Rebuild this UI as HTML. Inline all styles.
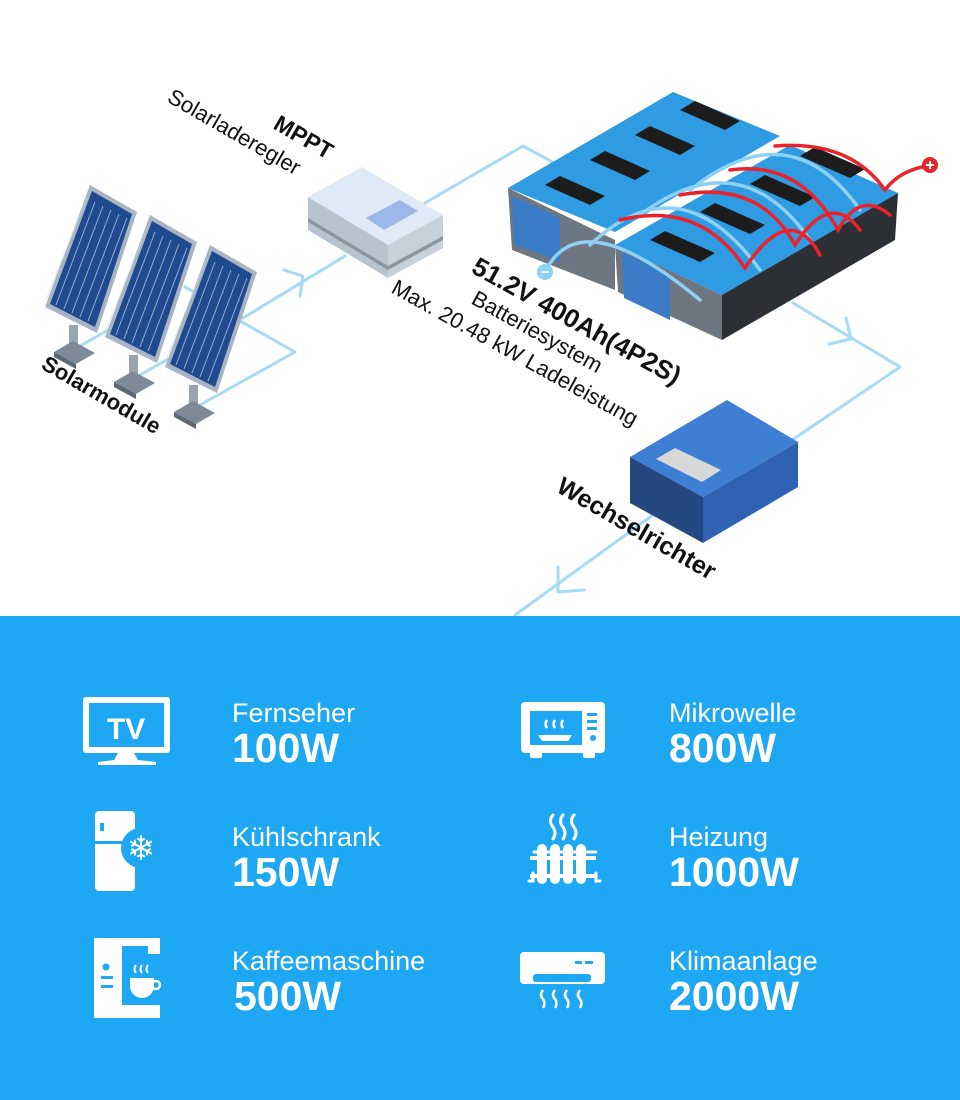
<!DOCTYPE html>
<html><head><meta charset="utf-8"><style>
html,body{margin:0;padding:0;background:#fff}
svg{display:block}
text{font-family:"Liberation Sans",sans-serif}
</style></head><body>
<svg width="960" height="1100" viewBox="0 0 960 1100" xmlns="http://www.w3.org/2000/svg">
<rect width="960" height="1100" fill="#fff"/>
<g stroke="#a6dbf6" stroke-width="3" fill="none" stroke-linecap="round" stroke-linejoin="round">
<polyline points="80,346 110,329"/>
<polyline points="140,375 170,358"/>
<polyline points="200,405 295,352 240,321"/>
<polyline points="185,287 243,318"/>
<polyline points="243,318 345,256"/>
<polyline points="284,270 303,276 300,296"/>
<polyline points="425,203 523,146 560,166"/>
<polyline points="793,303 900,367 792,440"/>
<polyline points="829,344 851,339 846,318"/>
<polyline points="660,510 515,615"/>
<polyline points="558,567 558,592 584,590"/>
</g>
<g>
<g>
<rect x="69" y="325" width="9" height="32" fill="#9aa3b0"/>
<polygon points="54,352 73,341 95,353 76,364" fill="#7f8a98"/>
<polygon points="54,352 76,364 76,369 54,357" fill="#5d6876"/>
<polygon points="90,185 137,212 97,333 45,307" fill="#a9b4c2"/>
<polygon points="92,191 132,214 95,327 50,304" fill="#1f4a8f"/>
</g>
<g transform="translate(60,30)">
<rect x="69" y="325" width="9" height="32" fill="#9aa3b0"/>
<polygon points="54,352 73,341 95,353 76,364" fill="#7f8a98"/>
<polygon points="54,352 76,364 76,369 54,357" fill="#5d6876"/>
<polygon points="90,185 137,212 97,333 45,307" fill="#a9b4c2"/>
<polygon points="92,191 132,214 95,327 50,304" fill="#1f4a8f"/>
</g>
<g transform="translate(120,60)">
<rect x="69" y="325" width="9" height="32" fill="#9aa3b0"/>
<polygon points="54,352 73,341 95,353 76,364" fill="#7f8a98"/>
<polygon points="54,352 76,364 76,369 54,357" fill="#5d6876"/>
<polygon points="90,185 137,212 97,333 45,307" fill="#a9b4c2"/>
<polygon points="92,191 132,214 95,327 50,304" fill="#1f4a8f"/>
</g>
<g stroke="#c9d6ea" stroke-width="1" opacity="0.7">
<path d="M87,198 L46,300 M95,202 L56,305 M103,206 L64,309 M111,210 L72,313 M119,214 L80,317 M127,218 L88,321"/>
<path d="M147,228 L106,330 M155,232 L116,335 M163,236 L124,339 M171,240 L132,343 M179,244 L140,347 M187,248 L148,351"/>
<path d="M207,258 L166,360 M215,262 L176,365 M223,266 L184,369 M231,270 L192,373 M239,274 L200,377 M247,278 L208,381"/>
</g>
</g>
<polygon points="308,197 362,167 443,215 388,245" fill="#dfe9f7"/>
<polygon points="308,197 388,245 388,278 308,230" fill="#b9c3d0"/>
<polygon points="388,245 443,215 443,248 388,278" fill="#c8d0da"/>
<polygon points="308,218 388,266 443,236 443,240 388,270 308,222" fill="#8c96a3"/>
<polygon points="366,218 400,200 418,211 384,230" fill="#9bb8e8"/>
<polygon points="508,188 673,92 780,136 615,232" fill="#2f9be3"/>
<polygon points="508,188 615,240 615,290 512,250" fill="#6e7681"/>
<polygon points="512,196 560,218 560,262 514,244" fill="#3a7cc8"/>
<polygon points="615,245 790,145 898,193 722,295" fill="#2f9be3"/>
<polygon points="615,245 722,295 722,340 618,292" fill="#6e7681"/>
<polygon points="622,252 670,275 670,320 624,298" fill="#3a7cc8"/>
<polygon points="722,295 898,193 895,240 722,340" fill="#2c3035"/>
<g fill="#1c1c1c">
<polygon points="545,185 590,205 605,196 560,176"/>
<polygon points="590,160 635,180 650,171 605,151"/>
<polygon points="635,135 680,155 695,146 650,126"/>
<polygon points="680,110 725,130 740,121 695,101"/>
<polygon points="650,240 700,262 715,253 665,231"/>
<polygon points="700,212 750,234 765,225 715,203"/>
<polygon points="750,184 800,206 815,197 765,175"/>
<polygon points="800,156 850,178 865,169 815,147"/>
</g>
<g fill="none" stroke-width="3.5" stroke-linecap="round">
<path d="M545,272 Q580,200 700,300" stroke="#8fd0f5"/>
<path d="M590,245 Q680,160 760,270" stroke="#8fd0f5"/>
<path d="M640,215 Q740,140 810,240" stroke="#8fd0f5"/>
<path d="M690,190 Q790,110 860,210" stroke="#8fd0f5"/>
<path d="M620,220 Q700,200 745,268 Q790,200 820,255" stroke="#e8242a"/>
<path d="M680,195 Q760,180 795,245 Q830,190 860,230" stroke="#e8242a"/>
<path d="M730,170 Q800,160 838,230 Q860,190 890,215" stroke="#e8242a"/>
<path d="M775,146 Q850,140 885,190 Q900,170 928,166" stroke="#e8242a"/>
</g>
<circle cx="545" cy="272" r="8" fill="#8fd0f5"/><rect x="541" y="271" width="8" height="2" fill="#fff"/>
<circle cx="930" cy="165" r="8" fill="#e8242a"/><rect x="926" y="164" width="8" height="2" fill="#fff"/><rect x="929" y="161" width="2" height="8" fill="#fff"/>
<polygon points="630,457 727,400 798,442 703,497" fill="#3e7fd4"/>
<polygon points="630,457 703,497 703,543 630,503" fill="#24477f"/>
<polygon points="703,497 798,442 798,487 703,543" fill="#2f62b3"/>
<polygon points="656,459 675,448 721,470 702,482" fill="#d8d8d8"/>
<g fill="#111">
<text transform="translate(166,101) rotate(30)" font-size="22">Solarladeregler</text>
<text transform="translate(272,128) rotate(30)" font-size="23" font-weight="bold">MPPT</text>
<text transform="translate(40,368) rotate(30)" font-size="22" font-weight="bold">Solarmodule</text>
<text transform="translate(470,272) rotate(29)" font-size="26" font-weight="bold">51.2V 400Ah(4P2S)</text>
<text transform="translate(470,303) rotate(29)" font-size="22">Batteriesystem</text>
<text transform="translate(390,292) rotate(29)" font-size="22">Max. 20.48 kW Ladeleistung</text>
<text transform="translate(555,491) rotate(30)" font-size="25" font-weight="bold">Wechselrichter</text>
</g>
<rect x="0" y="616" width="960" height="484" fill="#1ea7f3"/>
<g fill="#fff">
<text x="232" y="722" font-size="27">Fernseher</text>
<text x="232" y="762" font-size="41" font-weight="bold">100W</text>
<text x="232" y="846" font-size="27">Kühlschrank</text>
<text x="232" y="886" font-size="41" font-weight="bold">150W</text>
<text x="232" y="970" font-size="27">Kaffeemaschine</text>
<text x="234" y="1010" font-size="41" font-weight="bold">500W</text>
<text x="669" y="722" font-size="27">Mikrowelle</text>
<text x="669" y="762" font-size="41" font-weight="bold">800W</text>
<text x="669" y="846" font-size="27">Heizung</text>
<text x="669" y="886" font-size="41" font-weight="bold">1000W</text>
<text x="669" y="970" font-size="27">Klimaanlage</text>
<text x="669" y="1010" font-size="41" font-weight="bold">2000W</text>
</g>
<g fill="#fff">
<rect x="83" y="697" width="87" height="56" rx="3"/>
<rect x="89" y="703" width="75" height="44" fill="#1ea7f3"/>
<text x="126" y="739" font-size="30" font-weight="bold" text-anchor="middle">TV</text>
<polygon points="118,753 134,753 138,760 156,762 156,765 98,765 98,762 114,760"/>
<rect x="95" y="811" width="40" height="80" rx="4"/>
<rect x="95" y="841" width="40" height="3" fill="#1ea7f3"/>
<rect x="100" y="823" width="4" height="8" fill="#1ea7f3"/>
<circle cx="141" cy="848" r="20" fill="#1ea7f3"/>
<text x="141" y="860" font-size="34" text-anchor="middle">❄</text>
<rect x="94" y="938" width="66" height="8"/>
<rect x="94" y="938" width="28" height="72"/>
<rect x="94" y="1005" width="66" height="13"/>
<rect x="148" y="938" width="12" height="16"/>
<circle cx="106" cy="967" r="3.5" fill="#1ea7f3"/>
<rect x="101" y="976" width="12" height="3" fill="#1ea7f3"/>
<rect x="101" y="985" width="12" height="3" fill="#1ea7f3"/>
<path d="M130,978 h24 v8 a12,12 0 0 1 -24,0 z"/>
<circle cx="156" cy="985" r="4" fill="none" stroke="#fff" stroke-width="2.5"/>
<path d="M136,965 q-3,4 0,8 M142,965 q-3,4 0,8 M148,965 q-3,4 0,8" stroke="#fff" stroke-width="2" fill="none"/>
<rect x="521" y="702" width="84" height="51" rx="4"/>
<rect x="530" y="749" width="12" height="9" rx="2"/><rect x="583" y="749" width="12" height="9" rx="2"/>
<rect x="530" y="711" width="52" height="34" fill="#1ea7f3"/>
<rect x="587" y="713" width="10" height="3" fill="#1ea7f3"/><rect x="587" y="720" width="10" height="3" fill="#1ea7f3"/><rect x="587" y="727" width="10" height="3" fill="#1ea7f3"/>
<circle cx="593" cy="738" r="3" fill="#1ea7f3"/>
<path d="M538,735 h34 l-4,6 h-26 z"/>
<path d="M547,720 q-3,4 0,8 M555,720 q-3,4 0,8 M563,720 q-3,4 0,8" stroke="#fff" stroke-width="2.5" fill="none"/>
<g stroke="#fff" fill="none" stroke-width="3" stroke-linecap="round">
<path d="M553,815 q-5,6 0,12 q4,6 0,12 M563,815 q-5,6 0,12 q4,6 0,12 M574,815 q-5,6 0,12 q4,6 0,12"/>
<path d="M534,852 h62 M533,873 v8 h-4 M596,873 v8 h4"/>
</g>
<rect x="537" y="844" width="10" height="40" rx="5"/><rect x="550" y="844" width="10" height="40" rx="5"/><rect x="563" y="844" width="10" height="40" rx="5"/><rect x="576" y="844" width="10" height="40" rx="5"/>
<rect x="530" y="856" width="66" height="4"/><rect x="530" y="874" width="66" height="4"/>
<rect x="520" y="952" width="85" height="32" rx="4"/>
<rect x="533" y="974" width="58" height="8" rx="3" fill="#1ea7f3"/>
<rect x="575" y="961" width="7" height="3" fill="#1ea7f3"/><rect x="585" y="961" width="8" height="3" fill="#1ea7f3"/>
<path d="M543,990 q-4,5 0,9 q3,4 0,9 M555,990 q-4,5 0,9 q3,4 0,9 M567,990 q-4,5 0,9 q3,4 0,9 M580,990 q-4,5 0,9 q3,4 0,9" stroke="#fff" stroke-width="2.5" fill="none"/>
</g>
</svg>
</body></html>
